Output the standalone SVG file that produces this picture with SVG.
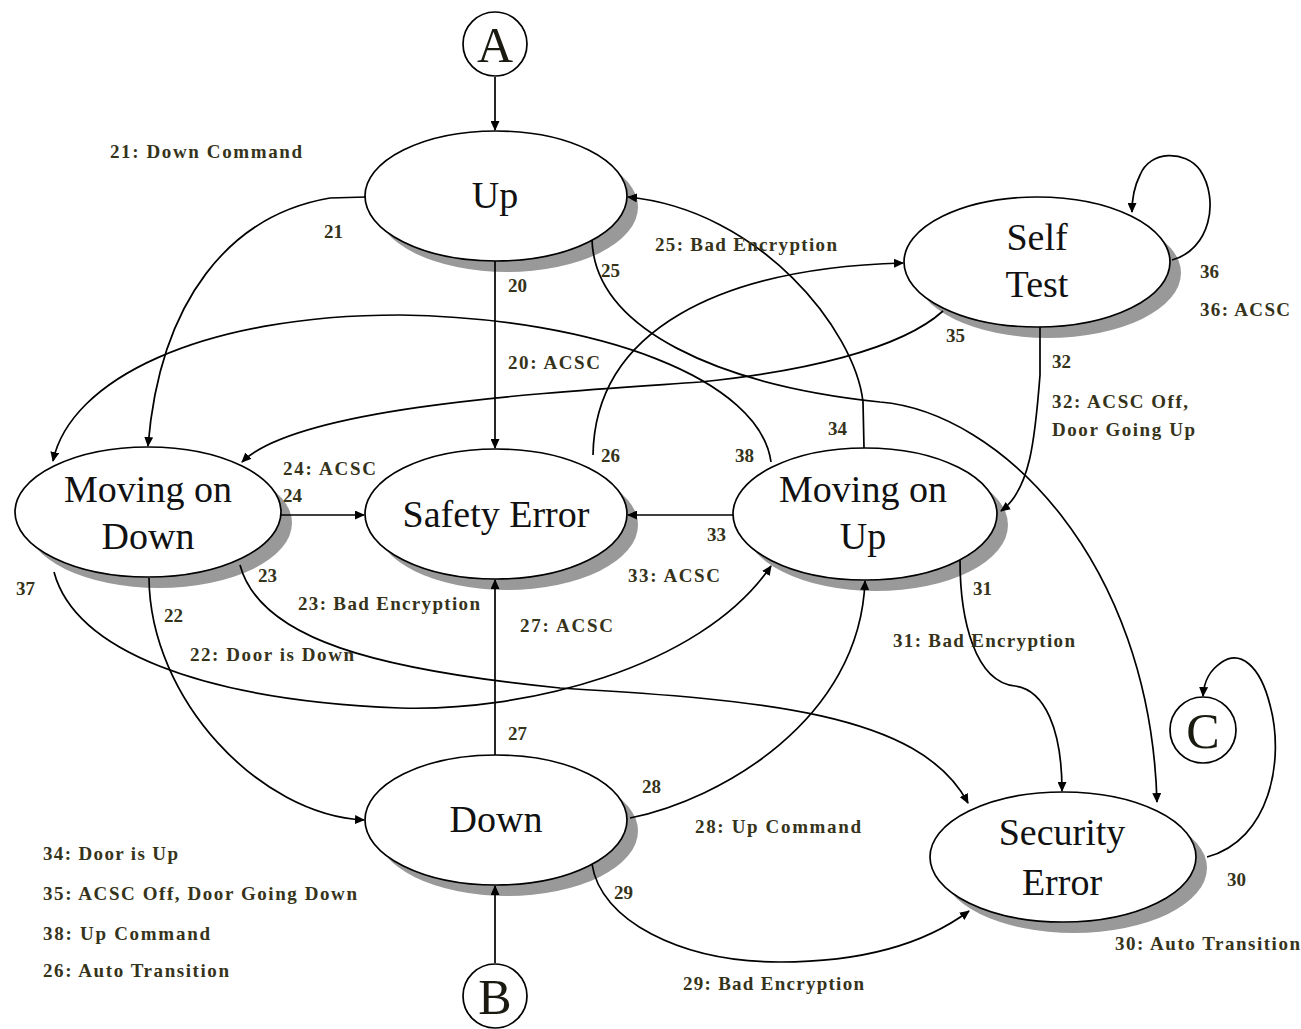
<svg xmlns="http://www.w3.org/2000/svg" width="1301" height="1029" viewBox="0 0 1301 1029">
  <defs>
    <marker id="arrow" markerUnits="userSpaceOnUse" markerWidth="10" markerHeight="9" refX="9" refY="4.5" orient="auto">
      <path d="M0,0 L10,4.5 L0,9 z" fill="#000"/>
    </marker>
    <style>
      .state ellipse.body { fill: #fff; stroke: #000; stroke-width: 1.7; }
      .state ellipse.shade { fill: #999; stroke: none; }
      .state text { font-family: "Liberation Serif", "Times New Roman", serif; font-size: 38px; fill: #111; text-anchor: middle; }
      .conn path, .conn line { fill: none; stroke: #000; stroke-width: 1.7; marker-end: url(#arrow); }
      .term circle { fill: #fff; stroke: #000; stroke-width: 1.7; }
      .term text { font-family: "Liberation Serif", "Times New Roman", serif; font-size: 50px; fill: #1a1a10; text-anchor: middle; }
      .lbl { font-family: "Liberation Serif", "Times New Roman", serif; font-weight: bold; font-size: 19px; fill: #35331a; }
    </style>
  </defs>
  <rect width="1301" height="1029" fill="#fff"/>

  <!-- states -->
  <g id="node-up" class="state">
    <ellipse class="shade" cx="507" cy="207" rx="131" ry="65"/>
    <ellipse class="body" cx="496" cy="196" rx="131" ry="65"/>
    <text x="495" y="208">Up</text>
  </g>
  <g id="node-self-test" class="state">
    <ellipse class="shade" cx="1048" cy="273" rx="133" ry="65"/>
    <ellipse class="body" cx="1037" cy="262" rx="133" ry="65"/>
    <text x="1037" y="250">Self</text>
    <text x="1037" y="297">Test</text>
  </g>
  <g id="node-moving-down" class="state">
    <ellipse class="shade" cx="159" cy="523" rx="133" ry="65"/>
    <ellipse class="body" cx="148" cy="512" rx="133" ry="65"/>
    <text x="148" y="502">Moving on</text>
    <text x="148" y="549">Down</text>
  </g>
  <g id="node-safety-error" class="state">
    <ellipse class="shade" cx="507" cy="525" rx="131" ry="65"/>
    <ellipse class="body" cx="496" cy="514" rx="131" ry="65"/>
    <text x="496" y="527">Safety Error</text>
  </g>
  <g id="node-moving-up" class="state">
    <ellipse class="shade" cx="876" cy="525" rx="132" ry="66"/>
    <ellipse class="body" cx="865" cy="514" rx="132" ry="66"/>
    <text x="863" y="502">Moving on</text>
    <text x="863" y="549">Up</text>
  </g>
  <g id="node-down" class="state">
    <ellipse class="shade" cx="507" cy="831" rx="131" ry="65"/>
    <ellipse class="body" cx="496" cy="820" rx="131" ry="65"/>
    <text x="496" y="832">Down</text>
  </g>
  <g id="node-security-error" class="state">
    <ellipse class="shade" cx="1074" cy="868" rx="133" ry="65"/>
    <ellipse class="body" cx="1063" cy="857" rx="133" ry="65"/>
    <text x="1062" y="845">Security</text>
    <text x="1062" y="895">Error</text>
  </g>

  <!-- connectors to other pages -->
  <g id="term-a" class="term">
    <circle cx="495" cy="44" r="32"/>
    <text x="495" y="62">A</text>
  </g>
  <g id="term-b" class="term">
    <circle cx="495" cy="996" r="32"/>
    <text x="495" y="1014">B</text>
  </g>
  <g id="term-c" class="term">
    <circle cx="1203" cy="730" r="33"/>
    <text x="1203" y="748">C</text>
  </g>

  <!-- transitions, drawn over the node shadows -->
  <g id="connectors" class="conn">
    <line x1="495" y1="77" x2="495" y2="130"/>
    <path d="M366,197 L330,198 C230,215 160,300 148,446"/>
    <line x1="495" y1="261" x2="495" y2="448"/>
    <path d="M592,240 C595,330 720,385 880,402 C1000,412 1150,560 1157,802"/>
    <path d="M864,448 L863,402 C855,330 760,210 628,197"/>
    <path d="M593,455 C595,330 720,268 903,263"/>
    <path d="M771,462 C760,380 600,318 400,315 C200,315 70,380 53,461"/>
    <path d="M943,311 C900,350 800,372 700,382 C560,392 300,405 242,462"/>
    <path d="M1040,327 L1040,375 C1035,440 1030,490 1001,511"/>
    <path d="M1172,260 C1210,250 1220,200 1200,170 C1185,150 1150,150 1140,175 C1135,185 1132,195 1132,212"/>
    <line x1="280" y1="515" x2="364" y2="515"/>
    <line x1="733" y1="515" x2="628" y2="515"/>
    <path d="M54,572 C75,650 200,700 400,708 C520,712 700,670 771,566"/>
    <path d="M240,565 C260,640 380,670 560,688 C760,700 920,712 968,803"/>
    <path d="M149,578 C150,700 260,815 364,820"/>
    <line x1="495" y1="755" x2="495" y2="580"/>
    <path d="M630,818 C720,800 860,720 865,581"/>
    <path d="M592,864 C600,920 680,962 780,962 C870,962 930,940 969,911"/>
    <path d="M960,560 C960,620 975,682 1015,686 C1045,690 1062,730 1062,791"/>
    <path d="M1207,857 C1270,840 1285,760 1270,705 C1260,665 1240,650 1222,662 C1210,670 1204,680 1203,696"/>
    <line x1="495" y1="963" x2="495" y2="886"/>
  </g>

  <!-- transition labels -->
  <g id="labels" class="lbl">
    <text x="110" y="158" textLength="192">21: Down Command</text>
    <text x="324" y="238">21</text>
    <text x="508" y="292">20</text>
    <text x="601" y="277">25</text>
    <text x="655" y="251" textLength="182">25: Bad Encryption</text>
    <text x="1200" y="278">36</text>
    <text x="1200" y="316" textLength="90">36: ACSC</text>
    <text x="946" y="342">35</text>
    <text x="1052" y="368">32</text>
    <text x="508" y="369" textLength="92">20: ACSC</text>
    <text x="1052" y="408" textLength="136">32: ACSC Off,</text>
    <text x="1052" y="436" textLength="143">Door Going Up</text>
    <text x="828" y="435">34</text>
    <text x="283" y="475" textLength="93">24: ACSC</text>
    <text x="601" y="462">26</text>
    <text x="735" y="462">38</text>
    <text x="283" y="502">24</text>
    <text x="707" y="541">33</text>
    <text x="258" y="582">23</text>
    <text x="628" y="582" textLength="92">33: ACSC</text>
    <text x="16" y="595">37</text>
    <text x="973" y="595">31</text>
    <text x="164" y="622">22</text>
    <text x="298" y="610" textLength="182">23: Bad Encryption</text>
    <text x="520" y="632" textLength="93">27: ACSC</text>
    <text x="893" y="647" textLength="182">31: Bad Encryption</text>
    <text x="190" y="661" textLength="164">22: Door is Down</text>
    <text x="508" y="740">27</text>
    <text x="642" y="793">28</text>
    <text x="695" y="833" textLength="166">28: Up Command</text>
    <text x="43" y="860" textLength="135">34: Door is Up</text>
    <text x="43" y="900" textLength="314">35: ACSC Off, Door Going Down</text>
    <text x="614" y="899">29</text>
    <text x="1227" y="886">30</text>
    <text x="43" y="940" textLength="167">38: Up Command</text>
    <text x="1115" y="950" textLength="185">30: Auto Transition</text>
    <text x="43" y="977" textLength="186">26: Auto Transition</text>
    <text x="683" y="990" textLength="181">29: Bad Encryption</text>
  </g>
</svg>
